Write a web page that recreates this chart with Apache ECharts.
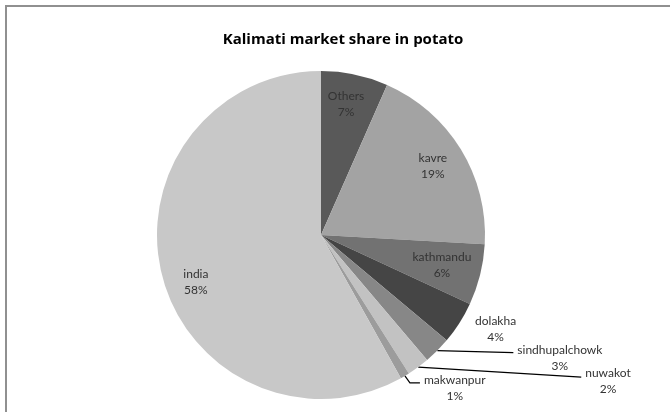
<!DOCTYPE html>
<html>
<head>
<meta charset="utf-8">
<script src="https://cdn.jsdelivr.net/npm/echarts@6/dist/echarts.min.js"></script>
<style>
  html, body { margin: 0; padding: 0; background: #fff; }
  #chart { width: 670px; height: 412px; }
</style>
</head>
<body>
<div id="chart"></div>
<script>
  // 数据
  var districts = ['Others', 'kavre', 'kathmandu', 'dolakha', 'sindhupalchowk', 'nuwakot', 'makwanpur', 'india'];
  var shares = [6.6, 19.3, 6.0, 4.2, 2.7, 2.2, 0.9, 58.1];
  var sliceColors = ['#595959', '#a3a3a3', '#727272', '#454545', '#878787', '#c2c2c2', '#9c9c9c', '#c8c8c8'];

  // 饼图位置
  var cx = 321, cy = 235, R = 164;

  // 标签摆放: r = 半径倍数, da = 角度偏移; line = 引导线 [dx1, dy1, dx2, dy2], ty = 文字竖向偏移
  var labelCfg = [
    { r: 0.81, da: -1 },
    { r: 0.80, da: 0 },
    { r: 0.76, da: 0 },
    { r: 1.21, da: -4 },
    { line: [0, 0, 76, 2], ty: 6 },
    { line: [0, 0, 163, 10], ty: 4 },
    { line: [5, 7, 15, 7], ty: 5 },
    { r: 0.815, da: -6 }
  ];

  var total = shares.reduce(function (a, b) { return a + b; }, 0);
  var midAngles = [];
  var acc = 0;
  shares.forEach(function (v) {
    midAngles.push((acc + v / 2) / total * 360);
    acc += v;
  });

  function polar(deg, r) {
    var a = deg * Math.PI / 180;
    return [cx + r * Math.sin(a), cy - r * Math.cos(a)];
  }

  var pieData = districts.map(function (name, i) {
    var hasLine = !!labelCfg[i].line;
    return {
      name: name,
      value: shares[i],
      itemStyle: { color: sliceColors[i] },
      label: { position: hasLine || labelCfg[i].r > 1 ? 'outside' : 'inside' },
      labelLine: { show: hasLine }
    };
  });

  var chart = echarts.init(document.getElementById('chart'));
  chart.setOption({
    animation: false,
    backgroundColor: '#ffffff',
    title: {
      text: 'Kalimati market share in potato',
      left: 338,
      textAlign: 'center',
      top: 27,
      textStyle: { fontFamily: 'Open Sans', fontWeight: 'bold', fontSize: 15, color: '#000' }
    },
    graphic: [{
      type: 'rect',
      shape: { x: 6, y: 6, width: 700, height: 440 },
      style: { fill: 'none', stroke: '#909090', lineWidth: 2 },
      silent: true
    }],
    series: [{
      type: 'pie',
      center: [cx, cy],
      radius: R,
      startAngle: 90,
      clockwise: true,
      avoidLabelOverlap: false,
      itemStyle: { borderWidth: 0 },
      label: {
        show: true,
        fontFamily: 'Lato',
        fontSize: 12,
        lineHeight: 16,
        color: '#333333',
        align: 'center',
        formatter: function (p) {
          return p.name + '\n' + Math.round(p.value / total * 100) + '%';
        }
      },
      labelLine: {
        show: false,
        lineStyle: { color: '#000', width: 1.2 }
      },
      labelLayout: function (params) {
        var i = params.dataIndex;
        var cfg = labelCfg[i];
        var w = params.labelRect.width;
        if (cfg.line) {
          var p0 = polar(midAngles[i], R);
          var p1 = [p0[0] + cfg.line[0], p0[1] + cfg.line[1]];
          var p2 = [p0[0] + cfg.line[2], p0[1] + cfg.line[3]];
          return {
            x: p2[0] + 4 + w / 2,
            y: p2[1] + cfg.ty,
            align: 'center',
            verticalAlign: 'middle',
            labelLinePoints: [p0, p1, p2]
          };
        }
        var p = polar(midAngles[i] + cfg.da, R * cfg.r);
        return { x: p[0], y: p[1], align: 'center', verticalAlign: 'middle' };
      },
      data: pieData
    }]
  });
</script>
</body>
</html>
